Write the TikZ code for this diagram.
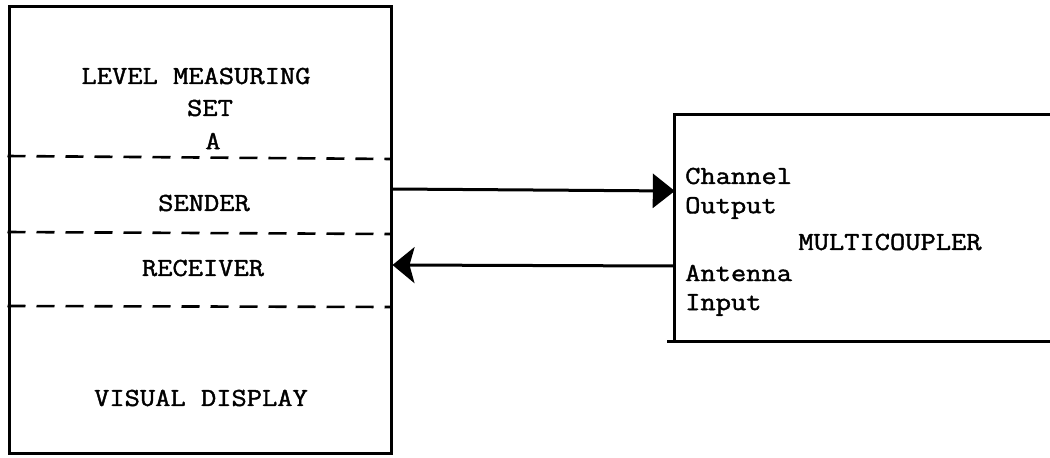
\documentclass[tikz,border=0pt]{standalone}
\usepackage{fontspec}
\newfontfamily\tw[FakeStretch=1.14, FakeBold=1.5]{Latin Modern Mono}
\usetikzlibrary{arrows.meta}
\tikzset{
  txt/.style={font=\fontsize{26}{30}\selectfont\tw, inner sep=0pt, anchor=center},
  ltxt/.style={font=\fontsize{26}{30}\selectfont\tw, inner sep=0pt, anchor=west},
  boxline/.style={line width=3pt},
  sep/.style={line width=2.6pt, dash pattern=on 18pt off 11pt},
  arr/.style={line width=3pt},
}
\begin{document}
\begin{tikzpicture}[x=1pt,y=-1pt]
\useasboundingbox (0,0) rectangle (1050,458);
% left box
\node[boxline, draw, minimum width=382pt, minimum height=447pt, inner sep=0pt] (lms) at (200,229.5) {};
% right box (open on the right)
\node[minimum width=375pt, minimum height=226pt, inner sep=0pt] (mc) at (862.5,228) {};
\draw[boxline] (mc.north east) -- (mc.north west) -- (mc.south west) -- ([xshift=-8pt]mc.south west) (mc.south west) -- (mc.south east);
% dashed separators
\draw[sep] (lms.west |- 0,156) -- (lms.east |- 0,159);
\draw[sep] (lms.west |- 0,232) -- (lms.east |- 0,234);
\draw[sep] (lms.west |- 0,306) -- (lms.east |- 0,307);
% texts left
\node[txt] (t1) at (196,76) {LEVEL MEASURING};
\node[txt] (t2) at (210,108) {SET};
\node[txt] (t3) at (213,141) {A};
\node[txt] (t4) at (204,203) {SENDER};
\node[txt] (t5) at (203,268) {RECEIVER};
\node[txt] (t6) at (201,398) {VISUAL DISPLAY};
% texts right
\node[ltxt] (r1) at (685,176) {Channel};
\node[ltxt] (r2) at (685,208) {Output};
\node[txt] (r3) at (890,242) {MULTICOUPLER};
\node[ltxt] (r4) at (685,273) {Antenna};
\node[ltxt] (r5) at (685,305) {Input};
% connectors
\draw[arr, -{Triangle[length=22pt,width=34pt]}] (lms.east |- 0,189) -- (mc.west |- 0,191);
\draw[arr, -{Stealth[length=22pt,width=36pt,inset=5pt]}] (mc.west |- 0,266) -- (lms.east |- 0,265);
\end{tikzpicture}
\end{document}
